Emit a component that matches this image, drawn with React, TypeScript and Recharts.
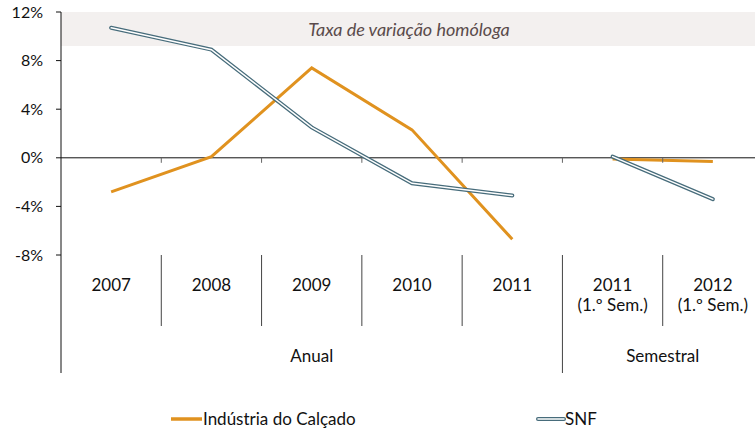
import { LineChart, Line, XAxis, YAxis, ReferenceLine, ReferenceArea } from 'recharts';

const categories = ['2007', '2008', '2009', '2010', '2011', '2011 S1', '2012 S1'];
const catLabels = [['2007'], ['2008'], ['2009'], ['2010'], ['2011'], ['2011', '(1.º Sem.)'], ['2012', '(1.º Sem.)']];
const calcado = [-2.8, 0.1, 7.4, 2.3, -6.7, -0.1, -0.3];
const snf = [10.7, 8.9, 2.5, -2.1, -3.1, 0.1, -3.4];
const isAnnual = [true, true, true, true, true, false, false];
const yTicks = [-8, -4, 0, 4, 8, 12];
const groups = [
  { label: 'Anual', from: 0, to: 4 },
  { label: 'Semestral', from: 5, to: 6 },
];

const W = 755;
const H = 434;
const LEFT = 61;
const RIGHT_OVER = 8; // the plot runs a little past the right edge
const TOP = 12;
const PLOT_H = 243;
const X_AXIS_H = 120;
const BAND = (W + RIGHT_OVER - LEFT) / categories.length;
const FONT = 'Lato, "Open Sans", sans-serif';

const ORANGE = '#E0921F';
const SNF_C = '#476C7B';

const data = categories.map((c, i) => ({
  cat: c,
  calcA: isAnnual[i] ? calcado[i] : null,
  calcS: isAnnual[i] ? null : calcado[i],
  snfA: isAnnual[i] ? snf[i] : null,
  snfS: isAnnual[i] ? null : snf[i],
}));

const zeroY = TOP + (12 / 20) * PLOT_H;

const CatTick = (props: any) => {
  const { x, y, payload } = props;
  const i = payload.index;
  const lines = catLabels[i];
  const right = x + BAND / 2;
  const isGroupEnd = groups.some((g) => g.to === i);
  const group = groups.find((g) => g.from === i);
  return (
    <g>
      {lines.map((t, k) => (
        <text key={k} x={x} y={y + 36 + k * 20} textAnchor="middle" fontSize={17} fontFamily={FONT} fill="#111">
          {t}
        </text>
      ))}
      {i < categories.length - 1 && (
        <>
          <line x1={right} x2={right} y1={y} y2={isGroupEnd ? y + 118 : y + 71} stroke="#444" strokeWidth={1} />
          <line x1={right} x2={right} y1={zeroY} y2={zeroY + 5} stroke="#666" strokeWidth={1} />
        </>
      )}
      {i === 0 && <line x1={LEFT} x2={LEFT} y1={y} y2={y + 118} stroke="#111" strokeWidth={1} />}
      {group && (
        <text
          x={LEFT + BAND * ((group.from + group.to + 1) / 2)}
          y={y + 107}
          textAnchor="middle"
          fontSize={17}
          fontFamily={FONT}
          fill="#111"
        >
          {group.label}
        </text>
      )}
    </g>
  );
};

const LegendBox = () => (
  <svg width={W} height={24} style={{ position: 'absolute', left: 0, top: 407 }}>
    <line x1={171} x2={202} y1={12} y2={12} stroke={ORANGE} strokeWidth={3.5} />
    <text x={203} y={18} fontSize={17} fontFamily={FONT} fill="#111">Indústria do Calçado</text>
    <line x1={538} x2={564} y1={12} y2={12} stroke={SNF_C} strokeWidth={4} strokeLinecap="round" />
    <line x1={538} x2={564} y1={12} y2={12} stroke="#fff" strokeWidth={1.5} strokeLinecap="round" />
    <text x={565} y={18} fontSize={17} fontFamily={FONT} fill="#111">SNF</text>
  </svg>
);

export default function App() {
  return (
    <div style={{ position: 'absolute', left: 0, top: 0, width: W, height: H, background: '#fff', overflow: 'hidden' }}>
      <LineChart
        width={W + RIGHT_OVER}
        height={H}
        data={data}
        margin={{ top: TOP, right: 0, left: 0, bottom: H - TOP - PLOT_H - X_AXIS_H }}
      >
        <ReferenceArea
          y1={9.2}
          y2={12}
          fill="#F3F0EF"
          fillOpacity={1}
          stroke="none"
          ifOverflow="hidden"
          label={{
            value: 'Taxa de variação homóloga',
            position: 'center',
            fontSize: 18,
            fontStyle: 'italic',
            fontFamily: FONT,
            fill: '#5A4B4B',
            dx: -3,
            dy: 1,
          }}
        />
        <XAxis
          dataKey="cat"
          scale="band"
          axisLine={false}
          tickLine={false}
          tickSize={0}
          tickMargin={0}
          interval={0}
          height={X_AXIS_H}
          tick={<CatTick />}
        />
        <YAxis
          domain={[-8, 12]}
          ticks={yTicks}
          width={LEFT}
          tickFormatter={(v) => `${v}%`}
          tick={{ fontSize: 16, fontFamily: FONT, fill: '#111' }}
          tickSize={5}
          tickMargin={13}
          axisLine={{ stroke: '#111' }}
          tickLine={{ stroke: '#111' }}
        />
        <ReferenceLine y={0} stroke="#111" strokeWidth={1} />
        <Line dataKey="calcA" stroke={ORANGE} strokeWidth={3} dot={false} isAnimationActive={false} />
        <Line dataKey="calcS" stroke={ORANGE} strokeWidth={3} dot={false} isAnimationActive={false} />
        <Line dataKey="snfA" stroke={SNF_C} strokeWidth={4} dot={false} strokeLinecap="round" isAnimationActive={false} />
        <Line dataKey="snfA" stroke="#fff" strokeWidth={1.5} dot={false} strokeLinecap="round" isAnimationActive={false} />
        <Line dataKey="snfS" stroke={SNF_C} strokeWidth={4} dot={false} strokeLinecap="round" isAnimationActive={false} />
        <Line dataKey="snfS" stroke="#fff" strokeWidth={1.5} dot={false} strokeLinecap="round" isAnimationActive={false} />
      </LineChart>
      <LegendBox />
    </div>
  );
}
